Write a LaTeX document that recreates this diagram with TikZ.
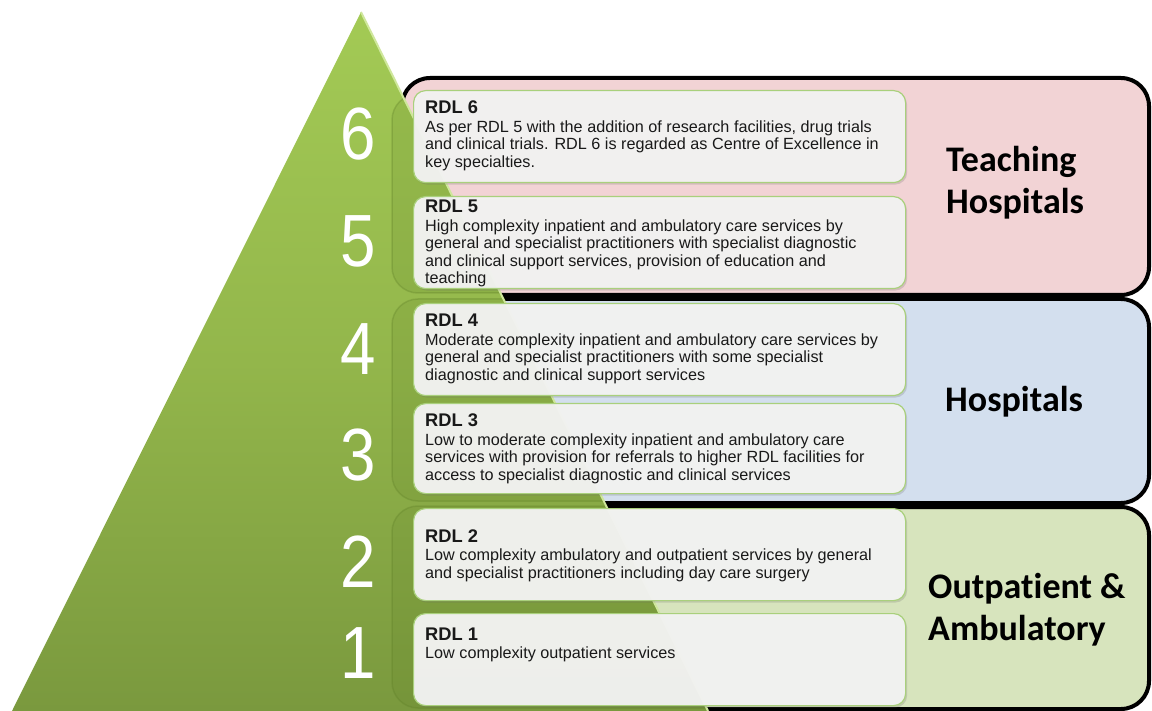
\documentclass[tikz,border=0pt]{standalone}
\usepackage{fontspec}
\usepackage{graphicx}
\setmainfont{Liberation Sans}
\newfontfamily\lblfont[Ligatures=NoCommon]{Carlito}
\usetikzlibrary{shadows}
\definecolor{pinkbg}{HTML}{F2D3D5}
\definecolor{bluebg}{HTML}{D3DFEE}
\definecolor{greenbg}{HTML}{D7E4BD}
\definecolor{tritop}{HTML}{A3CA55}
\definecolor{trimid}{HTML}{93B64B}
\definecolor{tribot}{HTML}{7A993E}
\definecolor{boxfill}{HTML}{F3F3F2}
\definecolor{boxline}{HTML}{A9D07C}
\definecolor{grpdark}{HTML}{5E7E26}
\definecolor{edgehl}{HTML}{CFE79C}
\newcommand{\rdl}[2]{\begin{tabular}[t]{@{}l@{}}{\fontsize{18.3}{18}\selectfont\bfseries #1}\\[1pt]#2\end{tabular}}
\tikzset{
  tier/.style={draw=black, line width=4pt, rounded corners=28pt, inner sep=0pt, anchor=north west},
  grp/.style={fill=grpdark, fill opacity=0.16, draw=grpdark, draw opacity=0.3, line width=1.5pt, rounded corners=26pt},
  rdlbox/.style={fill=boxfill, fill opacity=0.96, draw=boxline, line width=1.2pt, rounded corners=12pt,
    inner sep=0pt, anchor=north west, minimum width=492pt,
    drop shadow={shadow xshift=1.5pt, shadow yshift=-2pt, opacity=0.22, fill=black!60}},
  rdltext/.style={anchor=base west, inner sep=0pt, font=\fontsize{16.2}{17.5}\selectfont, text=black!90},
  tierlabel/.style={anchor=base west, inner sep=0pt, font=\lblfont\bfseries\fontsize{36}{42}\selectfont, text=black},
  num/.style={anchor=base, inner sep=0pt, text=white, font=\fontsize{74}{80}\selectfont},
}
\begin{document}
\begin{tikzpicture}[x=1pt, y=-1pt]
\useasboundingbox (0,0) rectangle (1152,711);
\fill[white] (0,0) rectangle (1152,711);

% tier boxes
\node[tier, fill=pinkbg, minimum width=747pt, minimum height=217pt] (teach) at (400,76) {};
\node[tier, fill=bluebg, minimum width=747pt, minimum height=204pt] (hosp) at (400,297) {};
\node[tier, fill=greenbg, minimum width=747pt, minimum height=202pt] (outp) at (400,505) {};

% pyramid
\shade[top color=tritop, bottom color=tribot, middle color=trimid] (361,12) -- (708,711) -- (12,711) -- cycle;
\begin{scope}
  \clip (361,12) -- (708,711) -- (12,711) -- cycle;
  \path[grp] (392,94) rectangle (1140,293);
  \path[grp] (392,299) rectangle (1140,501);
  \path[grp] (392,506) rectangle (1140,708);
\end{scope}
\draw[edgehl, line width=2pt] (361,12) -- (708,711);

% level boxes
\node[rdlbox, minimum height=92pt] (b6) at (413,90) {};
\node[rdlbox, minimum height=92pt] (b5) at (413,196) {};
\node[rdlbox, minimum height=92pt] (b4) at (413,303) {};
\node[rdlbox, minimum height=90pt] (b3) at (413,403) {};
\node[rdlbox, minimum height=92pt] (b2) at (413,508) {};
\node[rdlbox, minimum height=92pt] (b1) at (413,613) {};

% level texts
\node[rdltext] (t6) at (425,114) {\rdl{RDL 6}{As per RDL 5 with the addition of research facilities, drug trials\\and clinical trials. RDL 6 is regarded as Centre of Excellence in\\key specialties.}};
\node[rdltext] (t5) at (425,213) {\rdl{RDL 5}{High complexity inpatient and ambulatory care services by\\general and specialist practitioners with specialist diagnostic\\and clinical support services, provision of education and\\teaching}};
\node[rdltext] (t4) at (425,327) {\rdl{RDL 4}{Moderate complexity inpatient and ambulatory care services by\\general and specialist practitioners with some specialist\\diagnostic and clinical support services}};
\node[rdltext] (t3) at (425,427) {\rdl{RDL 3}{Low to moderate complexity inpatient and ambulatory care\\services with provision for referrals to higher RDL facilities for\\access to specialist diagnostic and clinical services}};
\node[rdltext] (t2) at (425,542) {\rdl{RDL 2}{Low complexity ambulatory and outpatient services by general\\and specialist practitioners including day care surgery}};
\node[rdltext] (t1) at (425,640) {\rdl{RDL 1}{Low complexity outpatient services}};

% numbers
\node[num] (n6) at (358,160) {\scalebox{0.86}[1]{6}};
\node[num] (n5) at (358,267) {\scalebox{0.86}[1]{5}};
\node[num] (n4) at (358,375) {\scalebox{0.86}[1]{4}};
\node[num] (n3) at (358,480) {\scalebox{0.86}[1]{3}};
\node[num] (n2) at (358,587) {\scalebox{0.86}[1]{2}};
\node[num] (n1) at (358,678) {\scalebox{0.86}[1]{1}};

% tier labels
\node[tierlabel] (lteach) at (946,172) {\begin{tabular}[t]{@{}l@{}}Teaching\\Hospitals\end{tabular}};
\node[tierlabel] (lhosp) at (945,411) {Hospitals};
\node[tierlabel] (lout) at (928,598) {\begin{tabular}[t]{@{}l@{}}Outpatient \&\\Ambulatory\end{tabular}};
\end{tikzpicture}
\end{document}
